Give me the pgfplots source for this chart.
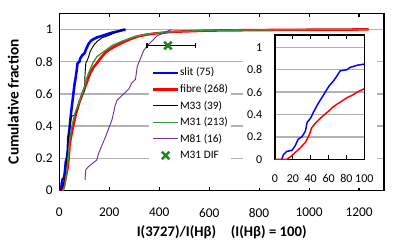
\documentclass[border=0pt]{standalone}
\usepackage{pgfplots}
\pgfplotsset{compat=1.18}
\usepackage{fontspec}
\setmainfont{Carlito}
\definecolor{mgreen}{RGB}{60,150,60}
\definecolor{mpurple}{RGB}{112,48,160}
\definecolor{dgreen}{RGB}{30,135,30}
\definecolor{gridgray}{RGB}{178,178,178}
\pgfplotsset{markleg/.style={legend image code/.code={\draw[##1] plot coordinates {(9.4pt,0pt)};}}}
\begin{document}
\begin{tikzpicture}
\useasboundingbox (-44.475pt,-41.475pt) rectangle (260.775pt,143.025pt);
\begin{axis}[
  at={(0pt,0pt)}, anchor=south west, scale only axis,
  width=243.525pt, height=133.05pt,
  xmin=0, xmax=1300, ymin=0, ymax=1.1,
  xtick={0,200,400,600,800,1000,1200},
  ytick={0,0.2,0.4,0.6,0.8,1},
  scaled ticks=false,
  /pgf/number format/assume math mode=true,
  /pgf/number format/set thousands separator={},
  ymajorgrids, major grid style={gridgray, line width=1.1pt},
  axis line style={line width=1.1pt},
  tick align=inside, major tick length=3pt,
  xtick style={black, line width=0.8pt},
  ytick style={draw=none},
  ticklabel style={font=\fontsize{10}{12}\selectfont},
  xticklabel style={anchor=center, yshift=-16.5pt},
  yticklabel style={xshift=-1.5pt},
  xlabel={\textbf{I(3727)/I(Hβ)\quad (I(Hβ) = 100)}},
  xlabel style={at={(axis description cs:0.5,-0.233)}, anchor=center, font=\fontsize{11}{13}\selectfont},
  ylabel={\textbf{Cumulative fraction}},
  ylabel style={at={(axis description cs:-0.142,0.502)}, anchor=center, rotate=0, font=\fontsize{11.5}{13}\selectfont},
  legend style={at={(axis description cs:0.276,0.7272)}, anchor=north west,
    fill=white, draw=none, font=\fontsize{8.5}{10}\selectfont,
    row sep=4.1pt, inner xsep=2pt, inner ysep=4pt,
    nodes={inner xsep=0.5pt, inner ysep=0pt, text height=6.5pt, text depth=1.8pt}},
  legend cell align=left,
  legend image code/.code={\draw[#1] (0pt,0pt) -- (18.75pt,0pt);},
]
\addplot[blue, line width=1.9pt] coordinates {
(7.5,0) (9.4,0.04) (13,0.07) (19,0.08) (22.5,0.12) (26,0.18) (30,0.2) (34,0.25) (36,0.33) (40,0.37) (43,0.42) (47,0.48) (50,0.52) (54,0.57) (57,0.61) (61,0.66) (65.5,0.70) (69,0.74) (73,0.79) (80.5,0.80) (84,0.82) (92,0.84) (100,0.85) (108,0.88) (117,0.91) (127,0.93) (137,0.94) (150,0.95) (171,0.96) (190,0.97) (211,0.98) (240,0.99) (265,1.0)};
\addlegendentry{slit (75)}
\addplot[red, line width=1.9pt] coordinates {
(0,0) (13,0) (17,0.02) (22.5,0.06) (28,0.10) (34,0.15) (38.5,0.22) (41,0.28) (45,0.32) (48.7,0.35) (54,0.39) (60,0.43) (64,0.46) (69,0.49) (75,0.52) (80.5,0.55) (86,0.57) (92,0.60) (100,0.63) (112,0.68) (124,0.73) (137,0.765) (150,0.79) (167,0.825) (184,0.855) (204,0.878) (224,0.896) (245,0.912) (265,0.927) (290,0.943) (318,0.958) (350,0.968) (385,0.975) (450,0.985) (600,0.993) (800,0.996) (1000,0.998) (1238,1.0)};
\addlegendentry{fibre (268)}
\addplot[black, line width=0.7pt] coordinates {
(5,0) (15,0.03) (25,0.1) (30,0.2) (35,0.3) (40,0.38) (48,0.46) (63,0.47) (70,0.5) (80,0.55) (92,0.59) (101,0.62) (103,0.72) (106,0.79) (115,0.82) (124,0.865) (137,0.9) (151,0.925) (171,0.948) (197,0.962) (224,0.98) (251,1.0) (265,1.0)};
\addlegendentry{M33 (39)}
\addplot[mgreen, line width=1.0pt] coordinates {
(15,0) (22,0.03) (28,0.1) (34,0.18) (38,0.25) (42,0.32) (48,0.38) (55,0.43) (63,0.48) (75,0.53) (85,0.57) (97,0.62) (110,0.70) (120,0.74) (134,0.79) (150,0.83) (171,0.855) (190,0.875) (211,0.9) (251,0.927) (305,0.958) (372,0.975) (450,0.986) (600,0.994) (800,0.997) (1000,0.999) (1238,1.0)};
\addlegendentry{M31 (213)}
\addplot[mpurple, line width=0.7pt] coordinates {
(103,0.067) (106,0.13) (117,0.15) (150,0.19) (157,0.23) (184,0.33) (211,0.44) (224,0.53) (231,0.56) (251,0.59) (278,0.63) (291,0.67) (305,0.69) (312,0.77) (325,0.82) (338,0.87) (359,0.91) (392,0.96) (420,0.98) (449,1.0)};
\addlegendentry{M81 (16)}
\addplot[black, line width=1.2pt, mark=|, mark size=2pt, forget plot] coordinates {(352,0.9) (546,0.9)};
\addplot[dgreen, only marks, mark=x, mark size=4pt, mark options={line width=1.9pt}, markleg] coordinates {(435,0.9)};
\addlegendentry{M31 DIF}
\end{axis}
\fill[white] (137.8pt,2pt) rectangle (238.3pt,118.3pt);
\begin{axis}[
  at={(161.775pt,23.55pt)}, anchor=south west, scale only axis,
  width=66.975pt, height=93.225pt,
  xmin=0, xmax=100, ymin=0, ymax=1.11,
  xtick={0,20,40,60,80,100},
  ytick={0,0.2,0.4,0.6,0.8,1},
  /pgf/number format/assume math mode=true,
  axis background/.style={fill=white},
  ymajorgrids, major grid style={gridgray, line width=1.1pt},
  axis line style={line width=1.1pt},
  tick align=inside, major tick length=3pt,
  xtick style={black, line width=0.8pt},
  ytick style={draw=none},
  ticklabel style={font=\fontsize{9}{11}\selectfont},
  xticklabel style={anchor=center, yshift=-14.25pt},
  yticklabel style={xshift=-6pt},
]
\addplot[blue, line width=1.1pt] coordinates {
(7.5,0) (9.4,0.04) (13,0.07) (19,0.08) (22.5,0.12) (26,0.18) (30,0.2) (34,0.25) (36,0.33) (40,0.37) (43,0.42) (47,0.48) (50,0.52) (54,0.57) (57,0.61) (61,0.66) (65.5,0.70) (69,0.74) (73,0.79) (80.5,0.80) (84,0.82) (92,0.84) (100,0.85)};
\addplot[red, line width=1.1pt] coordinates {
(0,0) (13,0) (17,0.02) (22.5,0.06) (28,0.10) (34,0.15) (38.5,0.22) (41,0.28) (45,0.32) (48.7,0.35) (54,0.39) (60,0.43) (64,0.46) (69,0.49) (75,0.52) (80.5,0.55) (86,0.57) (92,0.60) (100,0.63)};
\end{axis}
\end{tikzpicture}
\end{document}
